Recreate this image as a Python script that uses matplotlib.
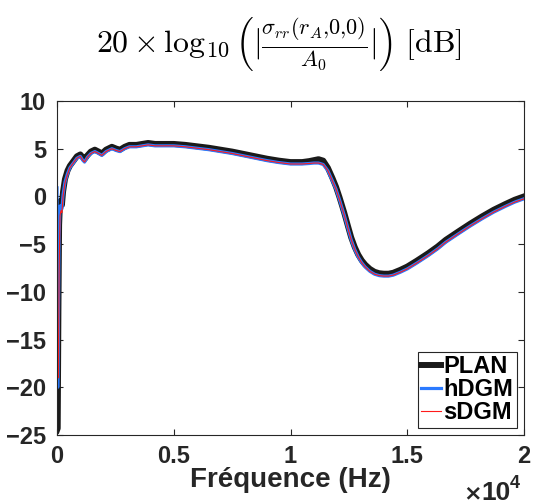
import matplotlib
matplotlib.use("Agg")
import matplotlib.pyplot as plt

freq = [0, 30, 60, 90, 130, 170, 210, 260, 340, 450, 550, 700, 850, 1000, 1100, 1180,
        1300, 1450, 1620, 1780, 1920, 2100, 2350, 2550, 2700, 2900, 3100, 3400, 3650,
        3900, 4200, 4500, 5000, 5500, 6000, 6500, 7000, 7500, 8000, 8500, 9000, 9500,
        10000, 10500, 10800, 11000, 11200, 11400, 11600, 11800, 11950, 12100, 12300,
        12460, 12600, 12750, 12900, 13050, 13200, 13400, 13600, 13800, 14000, 14200,
        14400, 14700, 15000, 15400, 15900, 16300, 16650, 17200, 17700,
        18200, 18700, 19200, 19600, 20000]

plan = [-24.5, -24.3, -12.0, -3.0, -0.5, -0.6, -0.9, 0.5, 1.8, 2.7, 3.2, 3.7, 4.2, 4.4, 4.1, 3.9,
        4.3, 4.7, 4.9, 4.7, 4.5, 4.9, 5.2, 5.0, 4.9, 5.2, 5.4, 5.4, 5.5,
        5.6, 5.5, 5.5, 5.5, 5.4, 5.25, 5.1, 4.9, 4.7, 4.45, 4.2, 3.95, 3.75,
        3.6, 3.6, 3.7, 3.8, 3.9, 3.75, 3.0, 1.9, 1.0, -0.1, -1.7,
        -3.1, -4.3, -5.3, -6.1, -6.7, -7.15, -7.6, -7.9, -8.05, -8.1, -8.1,
        -8.0, -7.7, -7.35, -6.75, -5.95, -5.25, -4.55, -3.65, -2.85,
        -2.1, -1.4, -0.8, -0.35, 0.0]

hdgm = [0.9, -20.0, -13.0, -4.0, -1.0, -1.0, -1.3, 0.2, 1.5, 2.4, 3.0, 3.5, 4.0, 4.2, 3.8, 3.6,
        4.1, 4.5, 4.7, 4.5, 4.3, 4.7, 5.0, 4.8, 4.7, 5.0, 5.2, 5.2, 5.3,
        5.4, 5.3, 5.3, 5.3, 5.2, 5.05, 4.9, 4.7, 4.5, 4.25, 4.0, 3.75, 3.55,
        3.4, 3.4, 3.45, 3.5, 3.5, 3.35, 2.7, 1.6, 0.75, -0.35, -1.95,
        -3.35, -4.55, -5.55, -6.35, -6.95, -7.4, -7.85, -8.15, -8.3, -8.35, -8.35,
        -8.25, -7.95, -7.6, -7.0, -6.2, -5.5, -4.8, -3.9, -3.1,
        -2.35, -1.65, -1.05, -0.6, -0.25]

sdgm = [0.9, -19.0, -19.0, -8.0, -2.0, -1.5, -1.7, 0.0, 1.4, 2.3, 3.0, 3.5, 4.0, 4.2, 3.8, 3.6,
        4.1, 4.5, 4.7, 4.5, 4.3, 4.7, 5.0, 4.8, 4.7, 5.0, 5.2, 5.2, 5.3,
        5.4, 5.3, 5.3, 5.3, 5.2, 5.05, 4.9, 4.7, 4.5, 4.25, 4.0, 3.75, 3.55,
        3.4, 3.4, 3.45, 3.5, 3.5, 3.35, 2.7, 1.6, 0.75, -0.35, -1.95,
        -3.35, -4.55, -5.55, -6.35, -6.95, -7.4, -7.85, -8.15, -8.3, -8.35, -8.35,
        -8.25, -7.95, -7.6, -7.0, -6.2, -5.5, -4.8, -3.9, -3.1,
        -2.35, -1.65, -1.05, -0.6, -0.25]

xticks = [0, 5000, 10000, 15000, 20000]
xticklabels = ['0', '0.5', '1', '1.5', '2']
yticks = [-25, -20, -15, -10, -5, 0, 5, 10]
labels = ['PLAN', 'hDGM', 'sDGM']

TXT = '#262626'
plt.rcParams['font.family'] = ['Liberation Sans', 'DejaVu Sans']
plt.rcParams['font.weight'] = 'bold'

fig = plt.figure(figsize=(5.33, 5.04), dpi=100)
ax = fig.add_axes([57/533, 1-435/504, (524-57)/533, (435-101)/504])

ax.plot(freq, plan, color='#1a1a1a', lw=4.3, label=labels[0])
ax.plot(freq, hdgm, color='#2a7aff', lw=2.3, label=labels[1])
ax.plot(freq, sdgm, color='#ff1a1a', lw=0.8, label=labels[2])

ax.set_xlim(0, 20000)
ax.set_ylim(-25, 10)
ax.set_xticks(xticks)
ax.set_xticklabels(xticklabels)
ax.set_yticks(yticks)
ax.tick_params(direction='in', top=True, right=True, length=4, width=0.8,
               labelsize=17, colors=TXT)
ax.tick_params(axis='x', pad=7)
ax.tick_params(axis='y', pad=8)
for lab in ax.get_xticklabels() + ax.get_yticklabels():
    lab.set_fontweight('bold')
for s in ax.spines.values():
    s.set_color(TXT)
    s.set_linewidth(0.8)

fig.text(290/533, 1-480/504, 'Fréquence (Hz)', fontsize=20, fontweight='bold', color=TXT,
         ha='center', va='center')

fig.text(463/533, 1-500/504, r'$\times$', fontsize=16, color=TXT, ha='left', va='baseline',
         math_fontfamily='dejavusans')
fig.text(481/533, 1-500/504, '10', fontsize=19, fontweight='bold', color=TXT, ha='left', va='baseline')
fig.text(510/533, 1-488/504, '4', fontsize=13, fontweight='bold', color=TXT, ha='left', va='baseline')

fig.text(279/533, 1-44/504,
         r'$20\times\log_{10}\left(|\frac{\sigma_{rr}(r_A{,}0{,}0)}{A_0}|\right)\ [\mathrm{dB}]$',
         fontsize=23, color='black', ha='center', va='center', math_fontfamily='cm')

leg = ax.legend(loc='lower right', handlelength=0.85, handletextpad=0.1,
                borderpad=0.15, labelspacing=0.0, borderaxespad=0.3, fancybox=False,
                framealpha=1, edgecolor=TXT, prop={'weight': 'bold', 'size': 17})
leg.get_frame().set_linewidth(0.8)
for t in leg.get_texts():
    t.set_color('black')

fig.savefig('out.png', dpi=100)
